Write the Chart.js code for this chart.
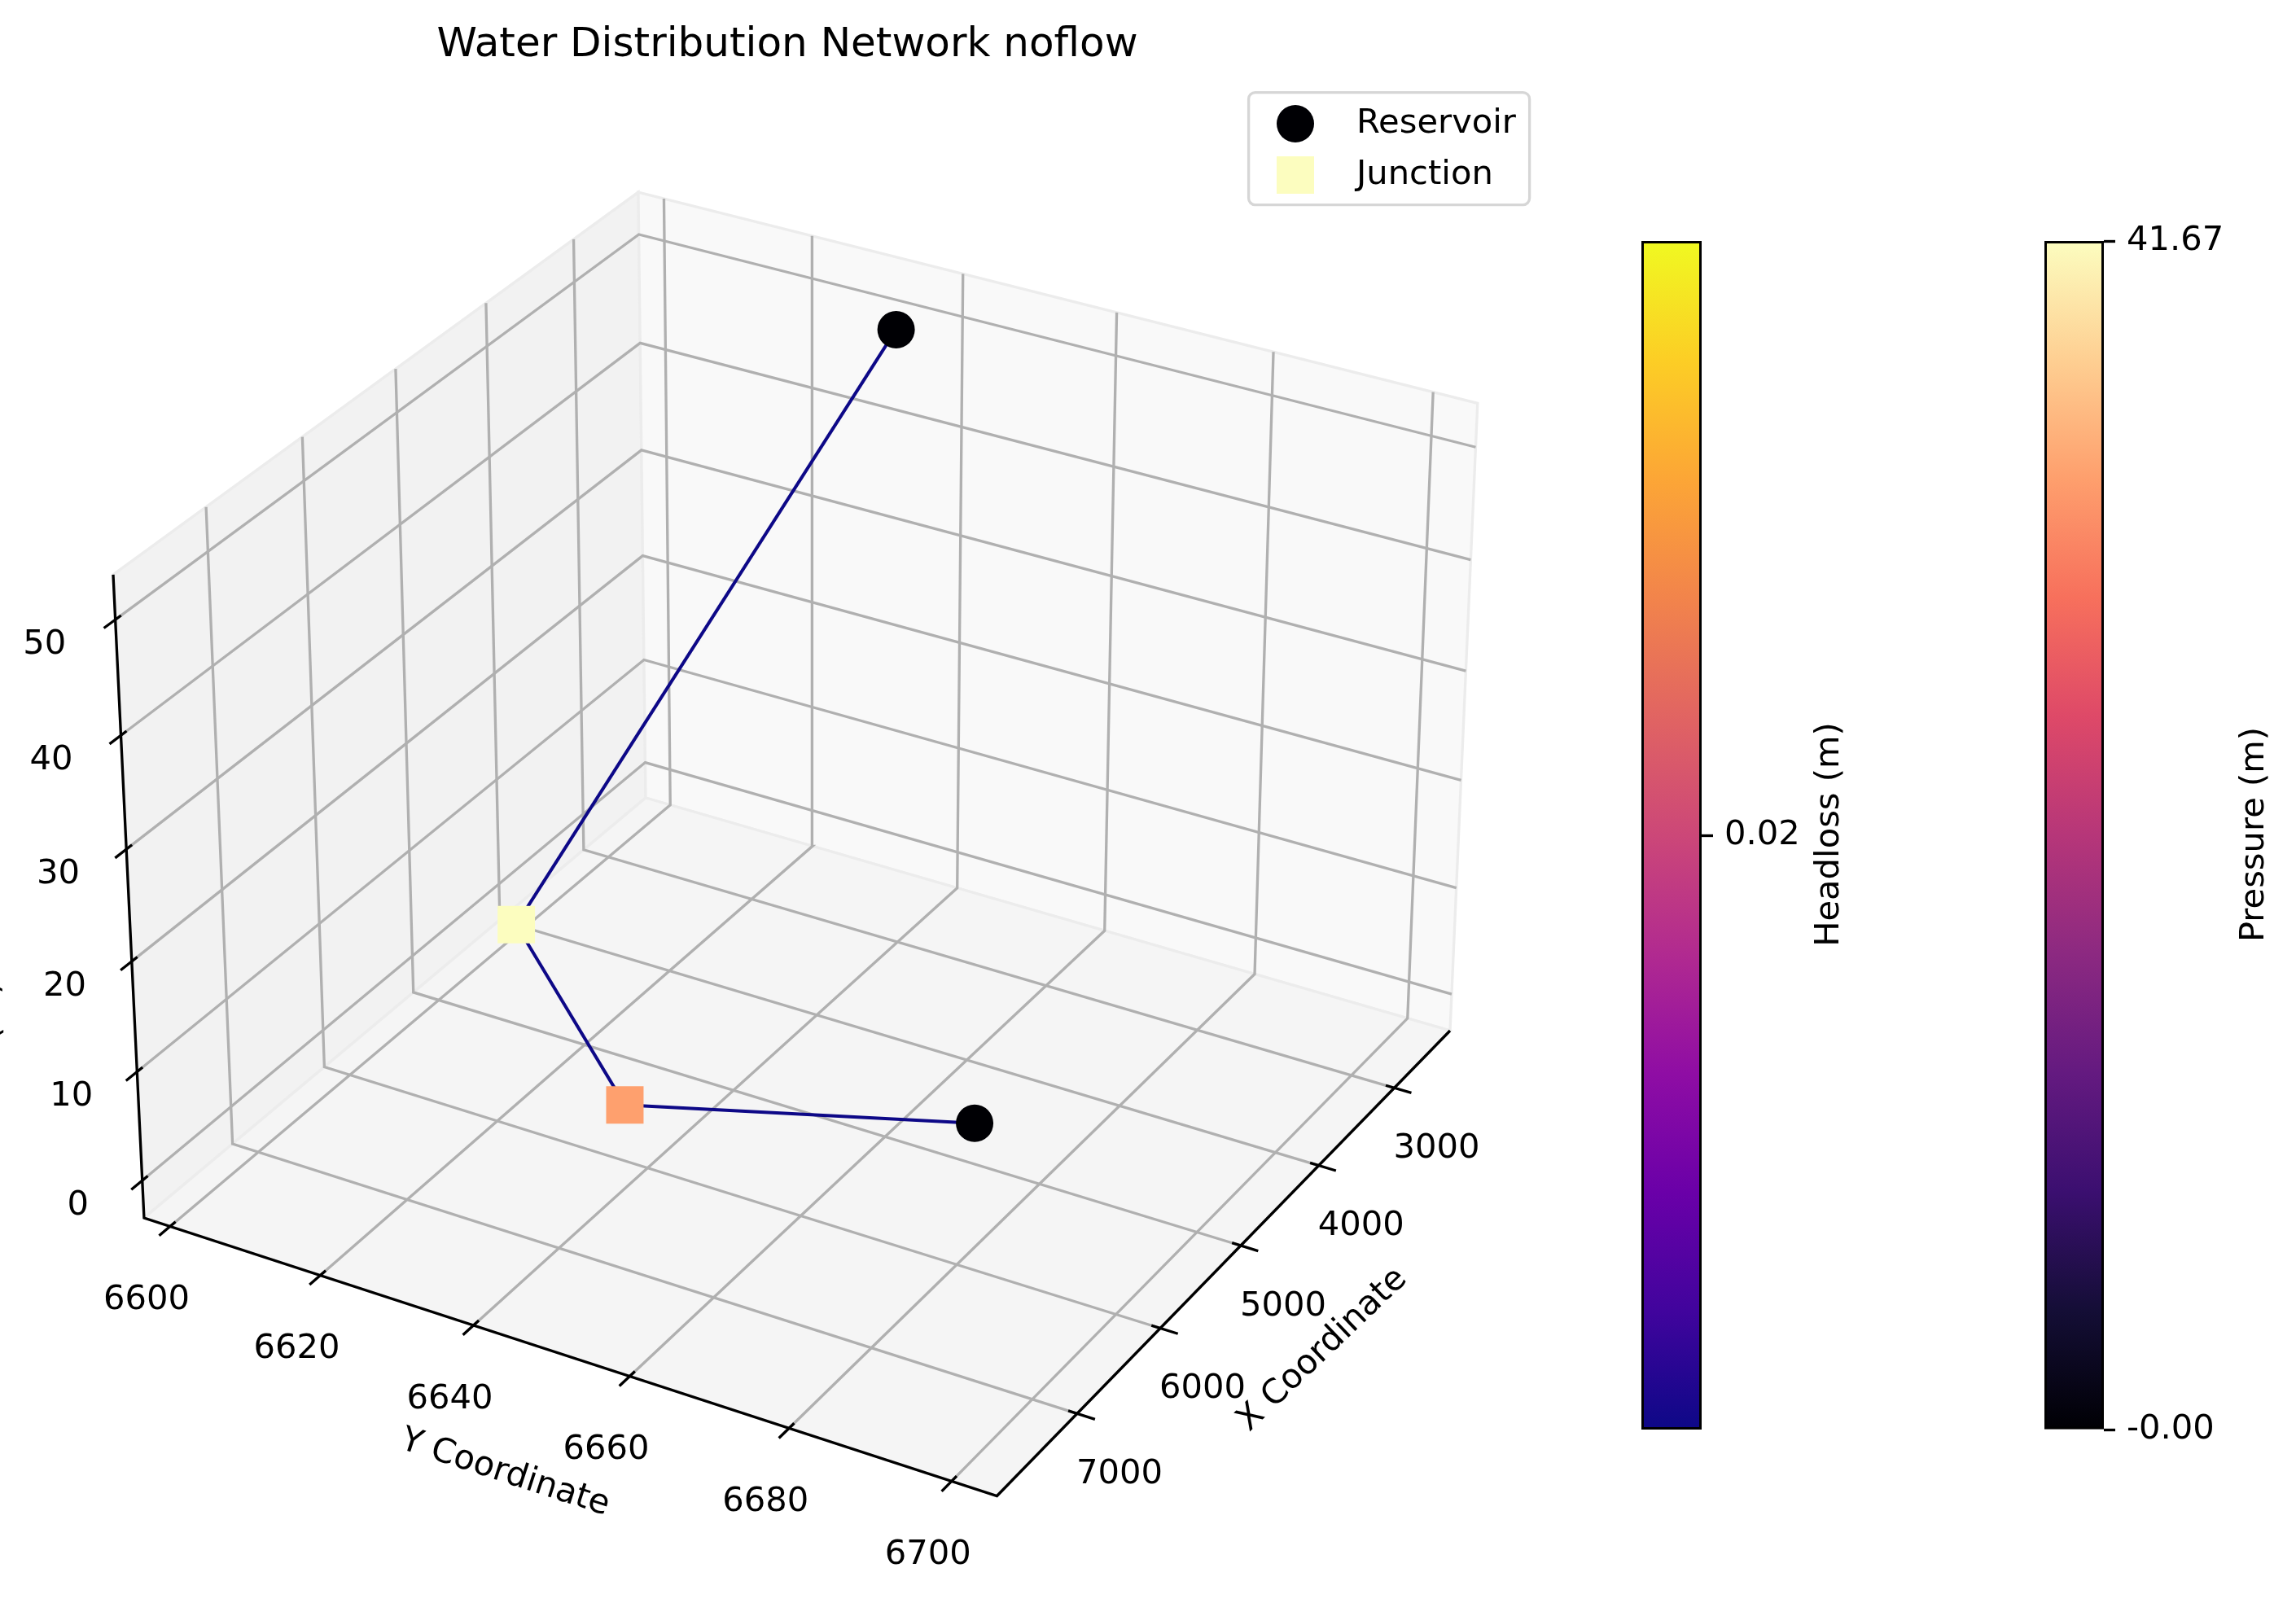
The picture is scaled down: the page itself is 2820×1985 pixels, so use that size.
<!DOCTYPE html>
<html>
<head>
<meta charset="utf-8">
<title>Water Distribution Network noflow</title>
<script src="https://cdn.jsdelivr.net/npm/chart.js@4/dist/chart.umd.js"></script>
<style>
    html, body { margin: 0; padding: 0; background: #ffffff; }
    #wrap { position: relative; width: 2820px; height: 1985px; overflow: hidden; }
    canvas { position: absolute; top: 0; }
</style>
</head>
<body>
<div id="wrap">
    <canvas id="network" width="2820" height="1985" style="left:0"></canvas>
    <canvas id="headlossBar" width="350" height="1985" style="left:1990px"></canvas>
    <canvas id="pressureBar" width="335" height="1985" style="left:2485px"></canvas>
</div>
<script>
// nodes
const nodeNames = ['R1', 'J1', 'J2', 'R2'];
const nodeX = [2592, 4386, 5821, 7570];
const nodeY = [6635, 6603.5, 6635, 6698.5];
const nodeZ = [50, 0.2, 0, 25];
const nodePressure = [0, 41.67, 33.4, 0];

// pipes, as indexes into the node arrays
const pipeFrom = [0, 1, 2];
const pipeTo = [1, 2, 3];

const xLimits = [2242, 7935];
const yLimits = [6596.5, 6705.5];
const zLimits = [-3.48, 53.85];
const xTicks = [3000, 4000, 5000, 6000, 7000];
const yTicks = [6600, 6620, 6640, 6660, 6680, 6700];
const zTicks = [0, 10, 20, 30, 40, 50];

const headlossRange = [0.015, 0.025];
const headlossTicks = [0.02];
const headlossTickLabels = ['0.02'];
const pressureRange = [0, 41.67];
const pressureTicks = [0, 41.67];
const pressureTickLabels = ['-0.00', '41.67'];

const magma = ['#000004', '#140e36', '#3b0f70', '#641a80', '#8c2981', '#b63679', '#de4968', '#f7705c', '#fe9f6d', '#fecf92', '#fcfdbf'];
const plasma = ['#0d0887', '#41049d', '#6a00a8', '#8f0da4', '#b12a90', '#cc4778', '#e16462', '#f2844b', '#fca636', '#fcce25', '#f0f921'];

const FONT = '"DejaVu Sans"';
const LW = 3.33;

// camera fitted to the box corners of the 3d axes
const CAM_X = [793, -630.6, 902.5, -40.4];
const CAM_Y = [980, 392.9, 225.2, -753.4];
const CAM_W = [1, -0.0823, -0.048, -0.04];

function project(x, y, z) {
    const u = (x - xLimits[0]) / (xLimits[1] - xLimits[0]);
    const v = (y - yLimits[0]) / (yLimits[1] - yLimits[0]);
    const w = (z - zLimits[0]) / (zLimits[1] - zLimits[0]);
    const d = CAM_W[0] + CAM_W[1] * u + CAM_W[2] * v + CAM_W[3] * w;
    return {
        x: (CAM_X[0] + CAM_X[1] * u + CAM_X[2] * v + CAM_X[3] * w) / d,
        y: (CAM_Y[0] + CAM_Y[1] * u + CAM_Y[2] * v + CAM_Y[3] * w) / d
    };
}

function hexToRgb(hex) {
    return [1, 3, 5].map(i => parseInt(hex.substr(i, 2), 16));
}

function magmaColor(t) {
    const pos = Math.min(Math.max(t, 0), 1) * (magma.length - 1);
    const i = Math.min(Math.floor(pos), magma.length - 2);
    const a = hexToRgb(magma[i]);
    const b = hexToRgb(magma[i + 1]);
    const c = a.map((val, k) => Math.round(val + (b[k] - val) * (pos - i)));
    return `rgb(${c[0]},${c[1]},${c[2]})`;
}

function pressureColor(p) {
    return magmaColor((p - pressureRange[0]) / (pressureRange[1] - pressureRange[0]));
}

function polyline(points, color, width) {
    return {
        data: points.map(p => project(p[0], p[1], p[2])),
        showLine: true,
        fill: false,
        tension: 0,
        pointRadius: 0,
        borderColor: color,
        borderWidth: width
    };
}

function pane(points, color) {
    const ds = polyline(points.concat([points[0]]), '#ececec', LW);
    ds.fill = 'shape';
    ds.backgroundColor = color;
    return ds;
}

const [x0, x1] = xLimits;
const [y0, y1] = yLimits;
const [z0, z1] = zLimits;
const dx = x1 - x0;
const dy = y1 - y0;

// lower index is drawn on top
const datasets = [];

// nodes
const reservoirIdx = nodeNames.map((n, i) => i).filter(i => nodeNames[i][0] === 'R');
const junctionIdx = nodeNames.map((n, i) => i).filter(i => nodeNames[i][0] === 'J');

datasets.push({
    label: 'Junction',
    data: junctionIdx.map(i => project(nodeX[i], nodeY[i], nodeZ[i])),
    pointStyle: 'rect',
    pointRadius: 32.5,
    pointBackgroundColor: junctionIdx.map(i => pressureColor(nodePressure[i])),
    pointBorderWidth: 0
});
datasets.push({
    label: 'Reservoir',
    data: reservoirIdx.map(i => project(nodeX[i], nodeY[i], nodeZ[i])),
    pointStyle: 'circle',
    pointRadius: 23,
    pointBackgroundColor: reservoirIdx.map(i => pressureColor(nodePressure[i])),
    pointBorderWidth: 0
});

// pipes
pipeFrom.forEach((from, k) => {
    const to = pipeTo[k];
    datasets.push(polyline([
        [nodeX[from], nodeY[from], nodeZ[from]],
        [nodeX[to], nodeY[to], nodeZ[to]]
    ], plasma[0], 4));
});

// axis lines
datasets.push(polyline([[x1, y0, z1], [x1, y0, z0], [x1, y1, z0], [x0, y1, z0]], '#000000', LW));

// tick marks
const OUT = 0.02;
const IN = 0.01;
xTicks.forEach(t => datasets.push(polyline([[t, y1 - IN * dy, z0], [t, y1 + OUT * dy, z0]], '#000000', LW)));
yTicks.forEach(t => datasets.push(polyline([[x1 - IN * dx, t, z0], [x1 + OUT * dx, t, z0]], '#000000', LW)));
zTicks.forEach(t => datasets.push(polyline([[x1 - IN * dx, y0, t], [x1 + OUT * dx, y0, t]], '#000000', LW)));

// grid
xTicks.forEach(t => datasets.push(polyline([[t, y1, z0], [t, y0, z0], [t, y0, z1]], '#b0b0b0', LW)));
yTicks.forEach(t => datasets.push(polyline([[x1, t, z0], [x0, t, z0], [x0, t, z1]], '#b0b0b0', LW)));
zTicks.forEach(t => datasets.push(polyline([[x1, y0, t], [x0, y0, t], [x0, y1, t]], '#b0b0b0', LW)));

// panes
datasets.push(pane([[x1, y0, z0], [x1, y1, z0], [x0, y1, z0], [x0, y0, z0]], '#f5f5f5'));
datasets.push(pane([[x0, y0, z0], [x0, y1, z0], [x0, y1, z1], [x0, y0, z1]], '#f9f9f9'));
datasets.push(pane([[x1, y0, z0], [x0, y0, z0], [x0, y0, z1], [x1, y0, z1]], '#f2f2f2'));

function drawRotated(ctx, text, x, y, angle, align) {
    ctx.save();
    ctx.translate(x, y);
    ctx.rotate(angle * Math.PI / 180);
    ctx.textAlign = align || 'center';
    ctx.fillText(text, 0, 0);
    ctx.restore();
}

const networkText = {
    id: 'networkText',
    afterDatasetsDraw(chart) {
        const ctx = chart.ctx;
        const sx = chart.scales.x;
        const sy = chart.scales.y;
        const at = (x, y, z) => {
            const p = project(x, y, z);
            return { x: sx.getPixelForValue(p.x), y: sy.getPixelForValue(p.y) };
        };

        ctx.save();
        ctx.fillStyle = '#000000';
        ctx.textBaseline = 'middle';
        ctx.textAlign = 'center';
        ctx.font = `41.67px ${FONT}`;

        xTicks.forEach(t => {
            const p = at(t, y1, z0);
            ctx.fillText(String(t), p.x + 52, p.y + 75);
        });
        yTicks.forEach(t => {
            const p = at(x1, t, z0);
            ctx.fillText(String(t), p.x - 29, p.y + 91);
        });
        zTicks.forEach(t => {
            const p = at(x1, y0, t);
            ctx.fillText(String(t), p.x - 79 - 8 * t / 50, p.y + 31);
        });

        ctx.textBaseline = 'alphabetic';
        drawRotated(ctx, 'X Coordinate', 1632, 1666, -43.7);
        drawRotated(ctx, 'Y Coordinate', 617, 1820, 18);
        drawRotated(ctx, 'Z (m)', -3, 1205, -91.5, 'right');

        ctx.font = `50px ${FONT}`;
        ctx.textAlign = 'center';
        ctx.fillText('Water Distribution Network noflow', 967, 69);

        // legend
        ctx.beginPath();
        ctx.roundRect(1533.6, 113.6, 345, 138, 8);
        ctx.fillStyle = 'rgba(255,255,255,0.8)';
        ctx.fill();
        ctx.strokeStyle = '#d6d6d6';
        ctx.lineWidth = LW;
        ctx.stroke();

        ctx.fillStyle = pressureColor(nodePressure[reservoirIdx[0]]);
        ctx.beginPath();
        ctx.arc(1591, 152, 23, 0, Math.PI * 2);
        ctx.fill();
        ctx.fillStyle = pressureColor(pressureRange[1]);
        ctx.fillRect(1568, 192, 46, 46);

        ctx.fillStyle = '#000000';
        ctx.font = `41.67px ${FONT}`;
        ctx.textAlign = 'left';
        ctx.fillText('Reservoir', 1666, 163);
        ctx.fillText('Junction', 1666, 226);
        ctx.restore();
    }
};

new Chart(document.getElementById('network'), {
    type: 'scatter',
    data: { datasets: datasets },
    options: {
        responsive: false,
        animation: false,
        devicePixelRatio: 1,
        events: [],
        layout: { padding: 0, autoPadding: false },
        plugins: { legend: { display: false }, tooltip: { enabled: false } },
        scales: {
            x: { type: 'linear', display: false, min: 0, max: 2820 },
            y: { type: 'linear', display: false, min: 0, max: 1985, reverse: true }
        }
    },
    plugins: [networkText]
});

function colorbar(canvasId, range, ticks, tickLabels, colors, scaleWidth, title, titleX) {
    const canvas = document.getElementById(canvasId);
    new Chart(canvas, {
        type: 'bar',
        data: {
            labels: [title],
            datasets: [{
                data: [range],
                barPercentage: 1,
                categoryPercentage: 1,
                borderColor: '#000000',
                borderWidth: LW,
                borderSkipped: false,
                backgroundColor(ctx) {
                    const area = ctx.chart.chartArea;
                    if (!area) return colors[0];
                    const g = ctx.chart.ctx.createLinearGradient(0, area.bottom, 0, area.top);
                    colors.forEach((c, i) => g.addColorStop(i / (colors.length - 1), c));
                    return g;
                }
            }]
        },
        options: {
            responsive: false,
            animation: false,
            devicePixelRatio: 1,
            events: [],
            layout: { padding: { left: 26, right: 0, top: 296, bottom: 229 }, autoPadding: false },
            plugins: { legend: { display: false }, tooltip: { enabled: false } },
            scales: {
                x: { display: false },
                y: {
                    position: 'right',
                    min: range[0],
                    max: range[1],
                    afterBuildTicks(scale) {
                        scale.ticks = ticks.map(v => ({ value: v }));
                    },
                    afterFit(scale) {
                        scale.width = scaleWidth;
                    },
                    border: { display: false },
                    grid: { drawOnChartArea: false, drawTicks: true, tickLength: 14, tickWidth: LW, tickColor: '#000000' },
                    ticks: {
                        autoSkip: false,
                        padding: 14,
                        color: '#000000',
                        font: { family: 'DejaVu Sans', size: 41.67 },
                        callback(value) {
                            return tickLabels[ticks.indexOf(value)];
                        }
                    }
                }
            }
        },
        plugins: [{
            id: 'barTitle',
            afterDraw(chart) {
                const ctx = chart.ctx;
                ctx.save();
                ctx.fillStyle = '#000000';
                ctx.font = `41.67px ${FONT}`;
                ctx.textBaseline = 'middle';
                drawRotated(ctx, title, titleX, 1025, -90);
                ctx.restore();
            }
        }]
    });
}

colorbar('headlossBar', headlossRange, headlossTicks, headlossTickLabels, plasma, 250, 'Headloss (m)', 257);
colorbar('pressureBar', pressureRange, pressureTicks, pressureTickLabels, magma, 236, 'Pressure (m)', 284);
</script>
</body>
</html>
